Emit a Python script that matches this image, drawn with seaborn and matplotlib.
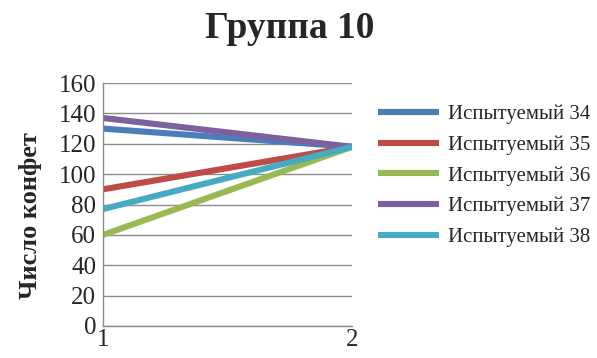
import pandas as pd
import numpy as np
import matplotlib.pyplot as plt
import seaborn as sns

sns.set_style('white')
plt.rcParams['font.family'] = ['Liberation Serif', 'DejaVu Serif']

x_vals = [1, 2]
subjects = ['Испытуемый 34', 'Испытуемый 35', 'Испытуемый 36', 'Испытуемый 37', 'Испытуемый 38']
s34 = [130, 118]
s35 = [90, 118]
s36 = [60, 118]
s37 = [137, 118]
s38 = [77, 118]
colors = ['#4A7EBB', '#BE4B48', '#98B954', '#7D60A0', '#46AAC5']

rows = []
for name, vals in zip(subjects, [s34, s35, s36, s37, s38]):
    for x, v in zip(x_vals, vals):
        rows.append({'x': x, 'y': v, 'who': name})
df = pd.DataFrame(rows)

fig = plt.figure(figsize=(5.97, 3.58), dpi=100)
ax = fig.add_axes([0.1725, 0.0894, 0.4171, 0.6786])
sns.lineplot(data=df, x='x', y='y', hue='who', palette=colors, linewidth=4.4, ax=ax, legend=True)
for line in ax.get_lines():
    line.set_solid_capstyle('butt')

ax.set_xlim(1, 2)
ax.set_ylim(0, 160)
ax.set_xticks([1, 2])
ax.set_yticks(range(0, 161, 20))
ax.tick_params(axis='both', labelsize=18, length=0, pad=2)
ax.tick_params(axis='y', pad=5)
ax.grid(axis='y', color='#8c8c8c', linewidth=1)
ax.set_axisbelow(True)
for s in ['top', 'right']:
    ax.spines[s].set_visible(False)
for s in ['left', 'bottom']:
    ax.spines[s].set_color('#8c8c8c')
    ax.spines[s].set_linewidth(1)
ax.set_xlabel('')
ax.set_ylabel('Число конфет', fontsize=19, fontweight='bold')
ax.yaxis.set_label_coords(-0.244, 0.455)

fig.suptitle('Группа 10', x=0.485, y=0.97, fontsize=27, fontweight='bold')

leg = ax.legend(title=None, loc='upper left', bbox_to_anchor=(1.072, 0.945), frameon=False,
                fontsize=15, handlelength=2.9, labelspacing=0.53, handletextpad=0.43,
                borderaxespad=0)
for line in leg.get_lines():
    line.set_linewidth(4.4)
    line.set_solid_capstyle('butt')

fig.savefig('out.png', dpi=100)
